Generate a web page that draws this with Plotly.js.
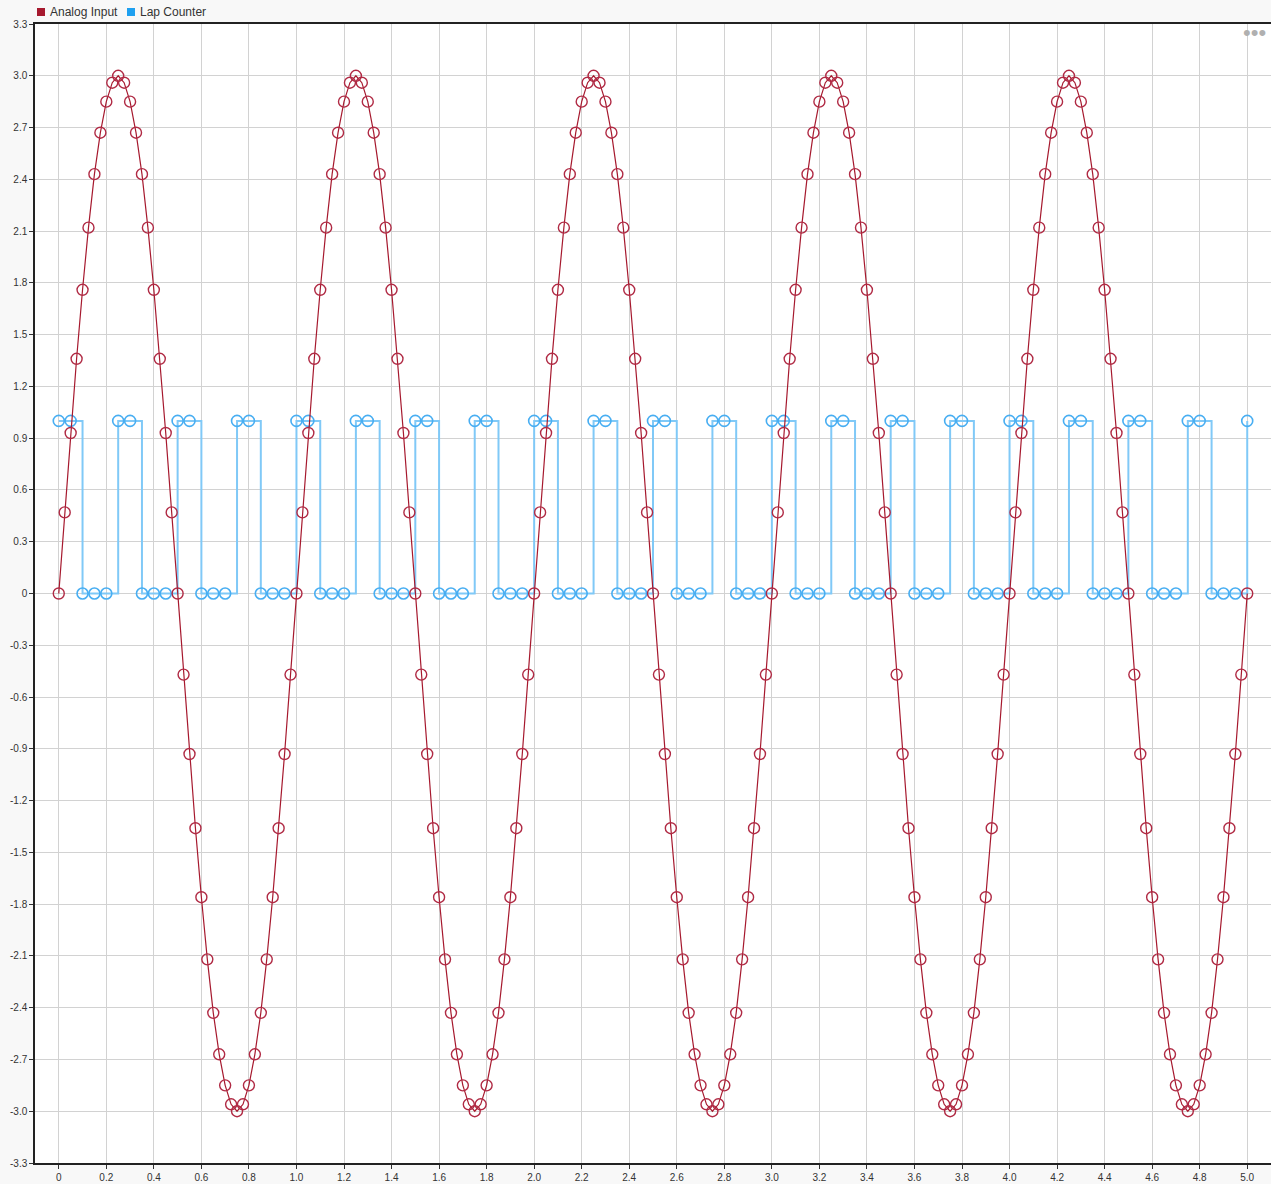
<!DOCTYPE html>
<html>
<head>
<meta charset="utf-8">
<script src="https://cdn.plot.ly/plotly-3.0.1.min.js"></script>
<style>
  html, body { margin: 0; padding: 0; background: #f8f8f8; }
  #chart { width: 1271px; height: 1184px; }
</style>
</head>
<body>
<div id="chart"></div>
<script>
// ---- data ----
const analogTime = [
  0, 0.025, 0.05, 0.075, 0.1, 0.125, 0.15, 0.175, 0.2, 0.225, 0.25, 0.275, 0.3, 0.325, 0.35, 0.375, 0.4, 0.425, 0.45, 0.475,
  0.5, 0.525, 0.55, 0.575, 0.6, 0.625, 0.65, 0.675, 0.7, 0.725, 0.75, 0.775, 0.8, 0.825, 0.85, 0.875, 0.9, 0.925, 0.95, 0.975,
  1.0, 1.025, 1.05, 1.075, 1.1, 1.125, 1.15, 1.175, 1.2, 1.225, 1.25, 1.275, 1.3, 1.325, 1.35, 1.375, 1.4, 1.425, 1.45, 1.475,
  1.5, 1.525, 1.55, 1.575, 1.6, 1.625, 1.65, 1.675, 1.7, 1.725, 1.75, 1.775, 1.8, 1.825, 1.85, 1.875, 1.9, 1.925, 1.95, 1.975,
  2.0, 2.025, 2.05, 2.075, 2.1, 2.125, 2.15, 2.175, 2.2, 2.225, 2.25, 2.275, 2.3, 2.325, 2.35, 2.375, 2.4, 2.425, 2.45, 2.475,
  2.5, 2.525, 2.55, 2.575, 2.6, 2.625, 2.65, 2.675, 2.7, 2.725, 2.75, 2.775, 2.8, 2.825, 2.85, 2.875, 2.9, 2.925, 2.95, 2.975,
  3.0, 3.025, 3.05, 3.075, 3.1, 3.125, 3.15, 3.175, 3.2, 3.225, 3.25, 3.275, 3.3, 3.325, 3.35, 3.375, 3.4, 3.425, 3.45, 3.475,
  3.5, 3.525, 3.55, 3.575, 3.6, 3.625, 3.65, 3.675, 3.7, 3.725, 3.75, 3.775, 3.8, 3.825, 3.85, 3.875, 3.9, 3.925, 3.95, 3.975,
  4.0, 4.025, 4.05, 4.075, 4.1, 4.125, 4.15, 4.175, 4.2, 4.225, 4.25, 4.275, 4.3, 4.325, 4.35, 4.375, 4.4, 4.425, 4.45, 4.475,
  4.5, 4.525, 4.55, 4.575, 4.6, 4.625, 4.65, 4.675, 4.7, 4.725, 4.75, 4.775, 4.8, 4.825, 4.85, 4.875, 4.9, 4.925, 4.95, 4.975,
  5.0
];
const analogInput = [
  0, 0.47, 0.93, 1.36, 1.76, 2.12, 2.43, 2.67, 2.85, 2.96, 3.00, 2.96, 2.85, 2.67, 2.43, 2.12, 1.76, 1.36, 0.93, 0.47,
  0, -0.47, -0.93, -1.36, -1.76, -2.12, -2.43, -2.67, -2.85, -2.96, -3.00, -2.96, -2.85, -2.67, -2.43, -2.12, -1.76, -1.36, -0.93, -0.47,
  0, 0.47, 0.93, 1.36, 1.76, 2.12, 2.43, 2.67, 2.85, 2.96, 3.00, 2.96, 2.85, 2.67, 2.43, 2.12, 1.76, 1.36, 0.93, 0.47,
  0, -0.47, -0.93, -1.36, -1.76, -2.12, -2.43, -2.67, -2.85, -2.96, -3.00, -2.96, -2.85, -2.67, -2.43, -2.12, -1.76, -1.36, -0.93, -0.47,
  0, 0.47, 0.93, 1.36, 1.76, 2.12, 2.43, 2.67, 2.85, 2.96, 3.00, 2.96, 2.85, 2.67, 2.43, 2.12, 1.76, 1.36, 0.93, 0.47,
  0, -0.47, -0.93, -1.36, -1.76, -2.12, -2.43, -2.67, -2.85, -2.96, -3.00, -2.96, -2.85, -2.67, -2.43, -2.12, -1.76, -1.36, -0.93, -0.47,
  0, 0.47, 0.93, 1.36, 1.76, 2.12, 2.43, 2.67, 2.85, 2.96, 3.00, 2.96, 2.85, 2.67, 2.43, 2.12, 1.76, 1.36, 0.93, 0.47,
  0, -0.47, -0.93, -1.36, -1.76, -2.12, -2.43, -2.67, -2.85, -2.96, -3.00, -2.96, -2.85, -2.67, -2.43, -2.12, -1.76, -1.36, -0.93, -0.47,
  0, 0.47, 0.93, 1.36, 1.76, 2.12, 2.43, 2.67, 2.85, 2.96, 3.00, 2.96, 2.85, 2.67, 2.43, 2.12, 1.76, 1.36, 0.93, 0.47,
  0, -0.47, -0.93, -1.36, -1.76, -2.12, -2.43, -2.67, -2.85, -2.96, -3.00, -2.96, -2.85, -2.67, -2.43, -2.12, -1.76, -1.36, -0.93, -0.47,
  0
];
const lapTime = [
  0, 0.05, 0.1, 0.15, 0.2, 0.25, 0.3, 0.35, 0.4, 0.45, 0.5, 0.55, 0.6, 0.65, 0.7, 0.75, 0.8, 0.85, 0.9, 0.95,
  1.0, 1.05, 1.1, 1.15, 1.2, 1.25, 1.3, 1.35, 1.4, 1.45, 1.5, 1.55, 1.6, 1.65, 1.7, 1.75, 1.8, 1.85, 1.9, 1.95,
  2.0, 2.05, 2.1, 2.15, 2.2, 2.25, 2.3, 2.35, 2.4, 2.45, 2.5, 2.55, 2.6, 2.65, 2.7, 2.75, 2.8, 2.85, 2.9, 2.95,
  3.0, 3.05, 3.1, 3.15, 3.2, 3.25, 3.3, 3.35, 3.4, 3.45, 3.5, 3.55, 3.6, 3.65, 3.7, 3.75, 3.8, 3.85, 3.9, 3.95,
  4.0, 4.05, 4.1, 4.15, 4.2, 4.25, 4.3, 4.35, 4.4, 4.45, 4.5, 4.55, 4.6, 4.65, 4.7, 4.75, 4.8, 4.85, 4.9, 4.95,
  5.0
];
const lapCounter = [
  1, 1, 0, 0, 0, 1, 1, 0, 0, 0, 1, 1, 0, 0, 0, 1, 1, 0, 0, 0,
  1, 1, 0, 0, 0, 1, 1, 0, 0, 0, 1, 1, 0, 0, 0, 1, 1, 0, 0, 0,
  1, 1, 0, 0, 0, 1, 1, 0, 0, 0, 1, 1, 0, 0, 0, 1, 1, 0, 0, 0,
  1, 1, 0, 0, 0, 1, 1, 0, 0, 0, 1, 1, 0, 0, 0, 1, 1, 0, 0, 0,
  1, 1, 0, 0, 0, 1, 1, 0, 0, 0, 1, 1, 0, 0, 0, 1, 1, 0, 0, 0,
  1
];
const seriesNames = ["Analog Input", "Lap Counter"];
const xTickVals = [0, 0.2, 0.4, 0.6, 0.8, 1.0, 1.2, 1.4, 1.6, 1.8, 2.0, 2.2, 2.4, 2.6, 2.8, 3.0, 3.2, 3.4, 3.6, 3.8, 4.0, 4.2, 4.4, 4.6, 4.8, 5.0];
const xTickText = ["0", "0.2", "0.4", "0.6", "0.8", "1.0", "1.2", "1.4", "1.6", "1.8", "2.0", "2.2", "2.4", "2.6", "2.8", "3.0", "3.2", "3.4", "3.6", "3.8", "4.0", "4.2", "4.4", "4.6", "4.8", "5.0"];
const yTickVals = [-3.3, -3.0, -2.7, -2.4, -2.1, -1.8, -1.5, -1.2, -0.9, -0.6, -0.3, 0, 0.3, 0.6, 0.9, 1.2, 1.5, 1.8, 2.1, 2.4, 2.7, 3.0, 3.3];
const yTickText = ["-3.3", "-3.0", "-2.7", "-2.4", "-2.1", "-1.8", "-1.5", "-1.2", "-0.9", "-0.6", "-0.3", "0", "0.3", "0.6", "0.9", "1.2", "1.5", "1.8", "2.1", "2.4", "2.7", "3.0", "3.3"];

// ---- styles ----
const RED = "#a6192e";
const RED_MARK = "#b02a44";
const BLUE = "#1ea0f0";
const BLUE_LINE = "#80c9f7";
const BLUE_MARK = "#48aef2";

const W = 1271, H = 1184;
const M = { l: 35, r: 0, t: 24, b: 21 };
const pw = W - M.l - M.r, ph = H - M.t - M.b;
const px = v => (v - M.l) / pw;          // pixel x -> paper
const py = v => (H - M.b - v) / ph;      // pixel y -> paper

const traces = [
  {
    x: lapTime, y: lapCounter, name: seriesNames[1],
    type: "scatter", mode: "lines+markers",
    line: { shape: "hv", color: BLUE_LINE, width: 2 },
    marker: { symbol: "circle-open", size: 11, color: BLUE_MARK, line: { width: 1.6, color: BLUE_MARK } },
    showlegend: false, hoverinfo: "x+y+name"
  },
  {
    x: analogTime, y: analogInput, name: seriesNames[0],
    type: "scatter", mode: "lines+markers",
    line: { color: RED, width: 1.2 },
    marker: { symbol: "circle-open", size: 11, color: RED_MARK, line: { width: 1.4, color: RED_MARK } },
    showlegend: false, hoverinfo: "x+y+name"
  }
];

const tickFont = { family: "Liberation Sans, Arial, sans-serif", size: 10, color: "#333333" };

const layout = {
  width: W, height: H,
  margin: M,
  paper_bgcolor: "#f8f8f8",
  plot_bgcolor: "#ffffff",
  showlegend: false,
  font: { family: "Liberation Sans, Arial, sans-serif", size: 12, color: "#333333" },
  xaxis: {
    range: [-0.1, 5.1],
    tickmode: "array", tickvals: xTickVals, ticktext: xTickText,
    tickfont: tickFont,
    ticks: "outside", ticklen: 4, tickcolor: "#333333", tickwidth: 1,
    showgrid: true, gridcolor: "#d2d2d2", gridwidth: 1,
    zeroline: false,
    showline: true, linecolor: "#222222", linewidth: 1.5, mirror: true
  },
  yaxis: {
    range: [-3.3, 3.3],
    tickmode: "array", tickvals: yTickVals, ticktext: yTickText,
    tickfont: tickFont,
    ticks: "outside", ticklen: 4, tickcolor: "#333333", tickwidth: 1,
    showgrid: true, gridcolor: "#d2d2d2", gridwidth: 1,
    zeroline: false,
    showline: true, linecolor: "#222222", linewidth: 1.5
  },
  shapes: [
    { type: "rect", xref: "paper", yref: "paper", x0: px(37), x1: px(45), y0: py(16), y1: py(8),
      fillcolor: RED, line: { width: 0 } },
    { type: "rect", xref: "paper", yref: "paper", x0: px(127), x1: px(135), y0: py(16), y1: py(8),
      fillcolor: BLUE, line: { width: 0 } }
  ],
  annotations: [
    { xref: "paper", yref: "paper", x: px(48), y: py(12), xanchor: "left", yanchor: "middle",
      text: seriesNames[0], showarrow: false, font: { size: 12, color: "#333333" } },
    { xref: "paper", yref: "paper", x: px(137.5), y: py(12), xanchor: "left", yanchor: "middle",
      text: seriesNames[1], showarrow: false, font: { size: 12, color: "#333333" } },
    { xref: "paper", yref: "paper", x: px(1254.5), y: py(33), xanchor: "center", yanchor: "middle",
      text: "•••", showarrow: false, font: { size: 22, color: "#b0b0b0" } }
  ]
};

Plotly.newPlot("chart", traces, layout, { displayModeBar: false, responsive: false });
</script>
</body>
</html>
